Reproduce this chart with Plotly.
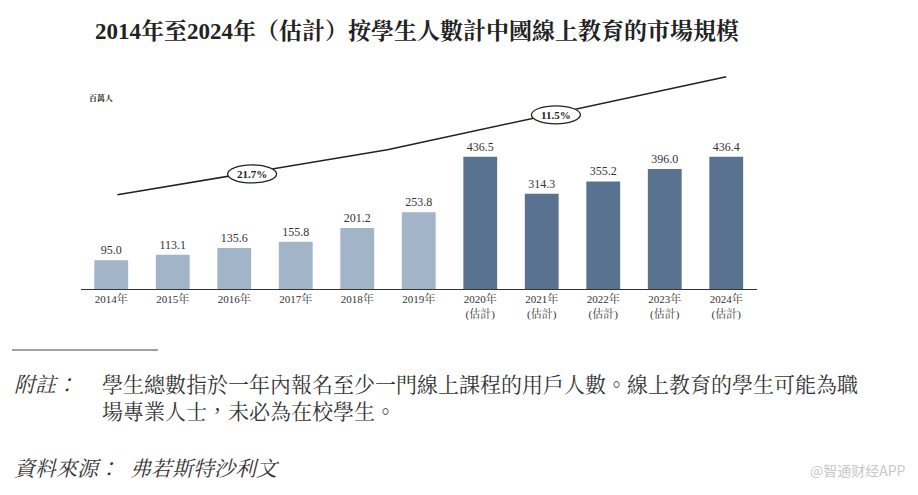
import plotly.graph_objects as go

# data
years = ["2014年", "2015年", "2016年", "2017年", "2018年", "2019年",
         "2020年<br>(估計)", "2021年<br>(估計)", "2022年<br>(估計)",
         "2023年<br>(估計)", "2024年<br>(估計)"]
students = [95.0, 113.1, 135.6, 155.8, 201.2, 253.8, 436.5, 314.3, 355.2, 396.0, 436.4]
bar_colors = ["#a1b4c8"] * 6 + ["#58728f"] * 5

# decorative CAGR arrow (in bar index / value units)
cagr_line_x = [0.1, 4.49, 10.0]
cagr_line_y = [311, 460, 701]
cagr_labels = ["21.7%", "11.5%"]
cagr_label_x = [2.29, 7.23]
cagr_label_y = [380, 575]

W, H = 918, 495
OFF = 8  # page body margin
serif = "Liberation Serif, Noto Serif CJK TC, Noto Sans CJK TC, serif"
cjk = "Noto Serif CJK TC, Noto Sans CJK TC, serif"


def px(x):
    return (x - OFF) / W


def py(y):
    return 1 - (y - OFF) / H


x0, x1 = 80.5, 757
y_base, y_top = 289, 60
px_per_unit = 132.2 / 436.5
ymax = (y_base - y_top) / px_per_unit

fig = go.Figure()
fig.add_trace(go.Bar(
    x=years, y=students, marker_color=bar_colors, marker_line_width=0,
    text=[f"{v:.1f}" for v in students], textposition="outside",
    textfont=dict(family=serif, size=12, color="#333"), cliponaxis=False,
    showlegend=False, hoverinfo="skip"))

fig.add_trace(go.Scatter(
    x=cagr_line_x, y=cagr_line_y, xaxis="x2", yaxis="y", mode="lines",
    line=dict(color="#222", width=1.6), showlegend=False, hoverinfo="skip"))

for lab, lx, ly in zip(cagr_labels, cagr_label_x, cagr_label_y):
    fig.add_shape(type="circle", xref="x2", yref="y", xsizemode="pixel",
                  ysizemode="pixel", xanchor=lx, yanchor=ly,
                  x0=-24.5, x1=24.5, y0=-9, y1=9,
                  fillcolor="white", line=dict(color="#222", width=1.3))
    fig.add_annotation(x=lx, y=ly, xref="x2", yref="y", text=f"<b>{lab}</b>",
                       showarrow=False,
                       font=dict(family=serif, size=11, color="#222"))

fig.update_layout(
    width=W, height=H, margin=dict(l=0, r=0, t=0, b=0),
    plot_bgcolor="white", paper_bgcolor="white", bargap=0.45,
    xaxis=dict(domain=[px(x0), px(x1)], showline=True, linecolor="#333",
               linewidth=1.2, ticks="", showgrid=False, fixedrange=True,
               tickfont=dict(family=serif, size=11, color="#333")),
    xaxis2=dict(domain=[px(x0), px(x1)], overlaying="x", range=[-0.5, 10.5],
                visible=False),
    yaxis=dict(domain=[py(y_base), py(y_top)], range=[0, ymax],
               visible=False, showgrid=False),
)


def text(x, y, s, font, xanchor="left"):
    fig.add_annotation(x=px(x), y=py(y), xref="paper", yref="paper",
                       xanchor=xanchor, yanchor="middle", text=s, align="left",
                       showarrow=False, font=font)


text(417, 31, "<b>2014年至2024年（估計）按學生人數計中國線上教育的市場規模</b>",
     dict(family=serif, size=23, color="#222"), xanchor="center")
text(87, 97, "<b>百萬人</b>", dict(family=cjk, size=8, color="#222"))

fig.add_shape(type="line", xref="paper", yref="paper", x0=px(12), x1=px(158),
              y0=py(350), y1=py(350), line=dict(color="#444", width=1.2))

note_font = dict(family=cjk, size=21, color="#333")
text(12, 383, "<i>附註：</i>", note_font)
text(100, 396.5, "學生總數指於一年內報名至少一門線上課程的用戶人數。線上教育的學生可能為職"
     "<br>場專業人士，未必為在校學生。", note_font)
text(12, 467, "<i>資料來源：</i>", note_font)
text(128, 467, "<i>弗若斯特沙利文</i>", note_font)
text(908, 470, "@智通财经APP",
     dict(family="Noto Sans CJK SC", size=14, color="#c8c8c8"), xanchor="right")

fig.write_html("out.html")
